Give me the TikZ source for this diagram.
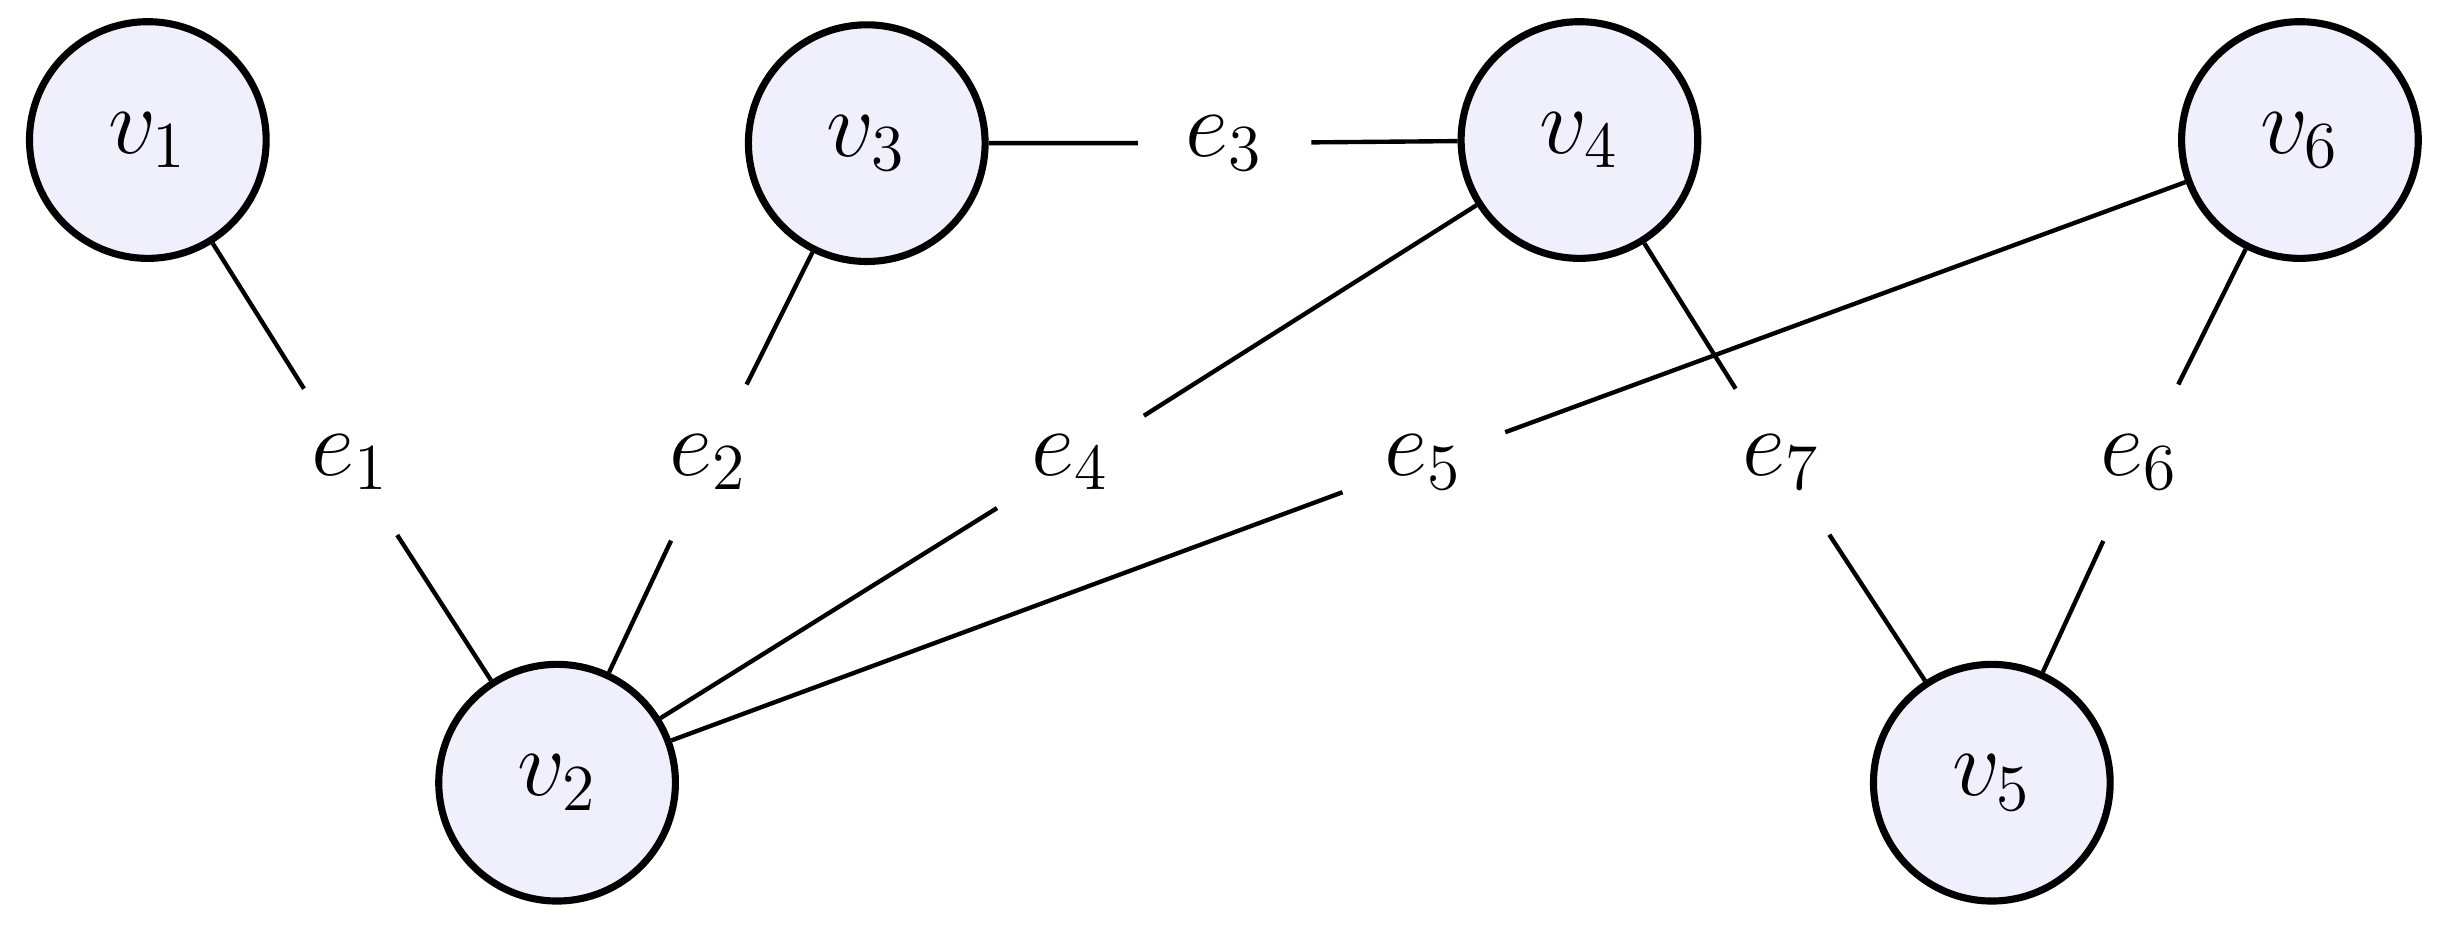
\documentclass[tikz,border=0pt]{standalone}
\begin{document}
\begin{tikzpicture}[x=0.01cm,y=-0.01cm,
  vert/.style={circle,draw,line width=1.3pt,fill={rgb,255:red,240;green,240;blue,252},minimum size=1.52cm,inner sep=0pt,font=\fontsize{18}{20}\selectfont},
  lab/.style={circle,minimum size=1.1cm,inner sep=0pt,font=\fontsize{18}{20}\selectfont},
  edge/.style={line width=0.8pt}]
\useasboundingbox (0,0) rectangle (1568,595);
\node[vert] (v1) at (95,90) {$v_1$};
\node[vert] (v3) at (557,92) {$v_3$};
\node[vert] (v4) at (1015,90) {$v_4$};
\node[vert] (v6) at (1478,90) {$v_6$};
\node[vert] (v2) at (358,503) {$v_2$};
\node[vert] (v5) at (1280,503) {$v_5$};
\node[lab] (e1) at (225,297) {$e_1$};
\node[lab] (e2) at (455,297) {$e_2$};
\node[lab] (e4) at (688,297) {$e_4$};
\node[lab] (e5) at (915,297) {$e_5$};
\node[lab] (e7) at (1145,297) {$e_7$};
\node[lab] (e6) at (1375,297) {$e_6$};
\node[lab] (e3) at (787,92) {$e_3$};
\draw[edge] (v1)--(e1) (e1)--(v2);
\draw[edge] (v3)--(e2) (e2)--(v2);
\draw[edge] (v3)--(e3) (e3)--(v4);
\draw[edge] (v4)--(e4) (e4)--(v2);
\draw[edge] (v6)--(e5) (e5)--(v2);
\draw[edge] (v4)--(e7) (e7)--(v5);
\draw[edge] (v6)--(e6) (e6)--(v5);
\end{tikzpicture}
\end{document}
